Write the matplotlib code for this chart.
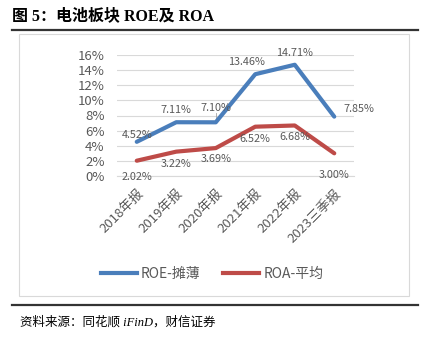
import matplotlib.pyplot as plt
from matplotlib.lines import Line2D
from matplotlib.patches import Rectangle

plt.rcParams['font.family'] = ['Noto Sans CJK SC', 'DejaVu Sans']

periods = ['2018年报', '2019年报', '2020年报', '2021年报', '2022年报', '2023三季报']
roe = [4.52, 7.11, 7.10, 13.46, 14.71, 7.85]
roa = [2.02, 3.22, 3.69, 6.52, 6.68, 3.00]
yticks = [0, 2, 4, 6, 8, 10, 12, 14, 16]

blue = '#4a7ebb'
red = '#be4b48'
grey = '#595959'

fig = plt.figure(figsize=(4.24, 3.38), dpi=100)

# title, rules, frame, source
fig.text(12/424, 1-16/338, '图 5：电池板块 ROE及 ROA', fontsize=11.5, fontweight='bold',
         va='center', ha='left', color='black',
         family=['Liberation Serif', 'Noto Sans CJK SC'])
fig.add_artist(Line2D([12/424, 418/424], [1-30/338]*2, color='#333333', lw=1.6))
fig.add_artist(Rectangle((19/424, 1-296/338), 390/424, 262/338, fill=False,
                         edgecolor='#d9d9d9', lw=0.8))
fig.add_artist(Line2D([12/424, 418/424], [1-305/338]*2, color='#333333', lw=1.6))
fig.text(20/424, 1-322/338, '资料来源：同花顺 iFinD，财信证券', fontsize=9, style='italic',
         va='center', ha='left', color='black',
         family=['Liberation Serif', 'Noto Sans CJK SC'])

ax = fig.add_axes([117/424, 1-176/338, 237/424, 121/338])
x = list(range(len(periods)))
ax.plot(x, roe, color=blue, lw=3, solid_capstyle='round', zorder=3)
ax.plot(x, roa, color=red, lw=3, solid_capstyle='round', zorder=3)
ax.set_xlim(-0.5, len(periods) - 0.5)
ax.set_ylim(0, 16)
ax.set_yticks(yticks)
ax.set_yticklabels([f'{t}%' for t in yticks], color=grey, fontsize=9.5)
ax.grid(axis='y', color='#d9d9d9', lw=0.8)
ax.set_axisbelow(True)
for s in ['top', 'right', 'left']:
    ax.spines[s].set_visible(False)
ax.spines['bottom'].set_color('#d9d9d9')
ax.tick_params(axis='y', length=0, pad=9)
ax.set_xticks(x)
ax.set_xticklabels(periods, rotation=45, ha='right', rotation_mode='anchor',
                   color=grey, fontsize=9.5)
ax.tick_params(axis='x', length=0, pad=8)

# data labels
roe_off = [(0, 1), (0, 5), (0, 7), (-6, 5), (0, 5), (18, 2)]
for i, v in enumerate(roe):
    dx, dy = roe_off[i]
    ax.annotate(f'{v:.2f}%', (i, v), xytext=(dx, dy), textcoords='offset points',
                ha='center', va='bottom', fontsize=7.8, color=grey)
ax.plot([2, 2], [7.10, 8.3], color='#a6a6a6', lw=0.6)
roa_off = [(0, -8), (0, -5), (0, -4), (0, -5), (0, -5), (0, -12)]
for i, v in enumerate(roa):
    dx, dy = roa_off[i]
    ax.annotate(f'{v:.2f}%', (i, v), xytext=(dx, dy), textcoords='offset points',
                ha='center', va='top', fontsize=7.8, color=grey, annotation_clip=False)

handles = [Line2D([], [], color=blue, lw=3), Line2D([], [], color=red, lw=3)]
fig.legend(handles, ['ROE-摊薄', 'ROA-平均'], loc='center', bbox_to_anchor=(212/424, 1-274/338),
           ncol=2, frameon=False, fontsize=10, labelcolor=grey, handlelength=2.6,
           columnspacing=1.6, handletextpad=0.3)

fig.savefig('out.png', dpi=100)
